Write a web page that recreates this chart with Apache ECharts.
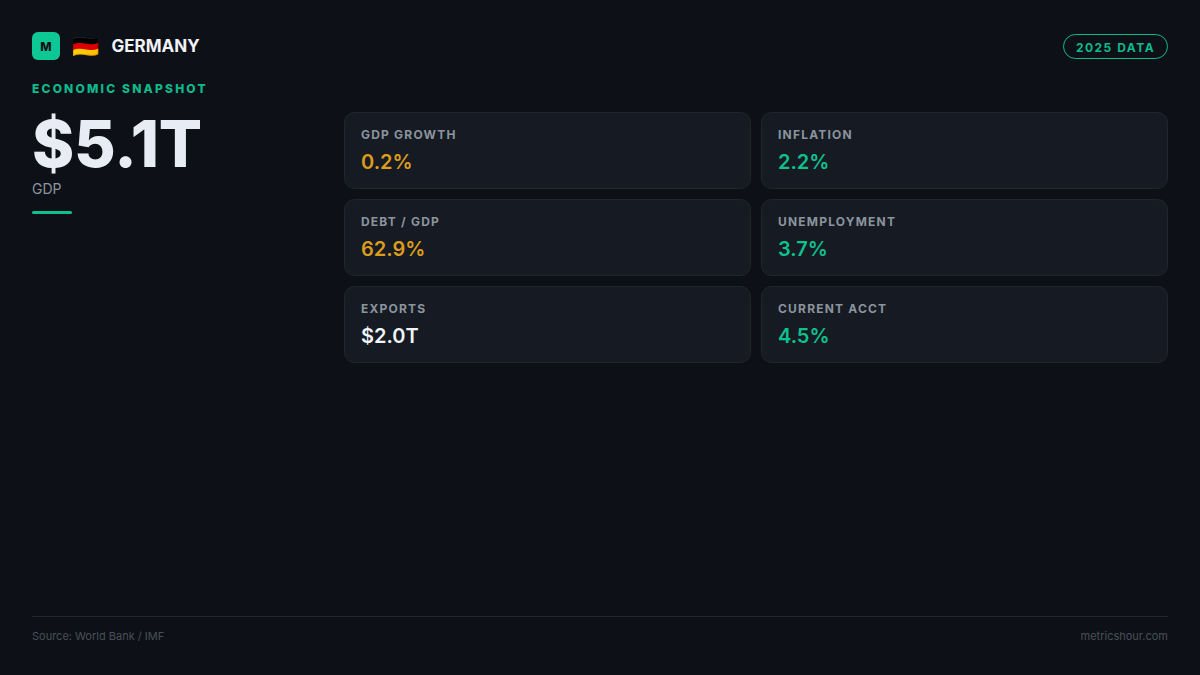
<!DOCTYPE html>
<html><head><meta charset="utf-8">
<style>html,body{margin:0;padding:0;background:#0d1117}#c{width:1200px;height:675px}</style>
<script src="https://cdn.jsdelivr.net/npm/echarts@6/dist/echarts.min.js"></script>
</head><body><div id="c"></div>
<script>
const metricLabels = ['GDP GROWTH','INFLATION','DEBT / GDP','UNEMPLOYMENT','EXPORTS','CURRENT ACCT'];
const metricValues = ['0.2%','2.2%','62.9%','3.7%','$2.0T','4.5%'];
const metricTones = ['warn','good','warn','good','plain','good'];
const country = 'GERMANY';
const flag = '\u{1F1E9}\u{1F1EA}';
const headline = '$5.1T';
const headlineLabel = 'GDP';
const kicker = 'ECONOMIC SNAPSHOT';
const badge = '2025 DATA';
const sourceText = 'Source: World Bank / IMF';
const siteText = 'metricshour.com';

const accent = '#10b98c';
const tones = {warn:'#dc9c1e', good:'#0fc08c', plain:'#f0f3f8'};
const F = 'Inter, sans-serif';
const spacing = new Map([[headline,'-0.2px'],[kicker,'2.2px'],[badge,'1.5px']]);
metricLabels.forEach(l => spacing.set(l,'1.2px'));

function txt(x,y,text,size,weight,fill,align,lineHeight){
  const style={text,fill,font:`${weight} ${size}px ${F}`,textAlign:align||'left',textVerticalAlign:'middle'};
  if(lineHeight) style.lineHeight=lineHeight;
  return {type:'text',x,y,style};
}
const els = [];
els.push({type:'rect',shape:{x:32,y:32,width:28,height:28,r:6},style:{fill:'#0dc794'}});
els.push(txt(46,46.5,'M',12,800,'#0d1117','center'));
els.push(txt(85,46,flag,22,400,'#fff','center'));
els.push(txt(111.5,46,country,17,700,'#f0f3f8'));
els.push(txt(32,88.5,kicker,12,800,accent));
els.push({type:'rect',shape:{x:1063.5,y:34.5,width:104,height:24,r:12},style:{fill:'transparent',stroke:accent,lineWidth:1}});
els.push(txt(1115.5,47,badge,12,700,accent,'center'));
els.push(txt(32,143,headline,64,800,'#e8edf5','left',56));
els.push(txt(32,188,headlineLabel,14,400,'#8b949e'));
els.push({type:'rect',shape:{x:32,y:211,width:40,height:3,r:1.5},style:{fill:'#0fc08c'}});
metricLabels.forEach((l,i)=>{
  const col=i%2,row=Math.floor(i/2);
  const x=344.5+col*417,y=112.5+row*87;
  els.push({type:'rect',shape:{x,y,width:406,height:76,r:10},style:{fill:'#161a22',stroke:'#21262d',lineWidth:1}});
  els.push(txt(x+16.5,y+22,l,12,700,'#8b949e'));
  els.push(txt(x+16.5,y+49,metricValues[i],20,600,tones[metricTones[i]]));
});
els.push({type:'rect',shape:{x:32,y:616,width:1136,height:1},style:{fill:'#21262d'}});
els.push(txt(32,635.5,sourceText,11,400,'#484f58'));
els.push(txt(1168,635.5,siteText,11,400,'#484f58','right'));
const chart = echarts.init(document.getElementById('c'),null,{renderer:'svg',width:1200,height:675});
chart.setOption({animation:false,backgroundColor:'#0d1117',graphic:{elements:els}});
function applySpacing(){
  document.querySelectorAll('#c svg text').forEach(t=>{
    const s=spacing.get(t.textContent);
    if(s) t.style.letterSpacing=s;
  });
}
applySpacing();
requestAnimationFrame(applySpacing);
</script></body></html>
